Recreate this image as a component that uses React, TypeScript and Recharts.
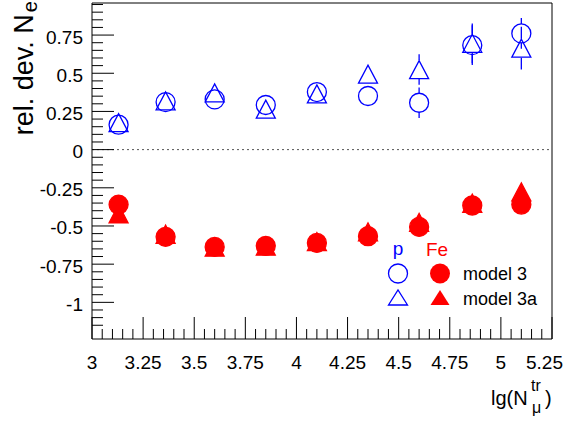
import React from 'react';
import { ScatterChart, Scatter, XAxis, YAxis, ErrorBar, ReferenceLine, ReferenceArea } from 'recharts';

// lg(N_mu^tr) bin centres
const X_BINS = [3.13, 3.36, 3.6, 3.85, 4.1, 4.35, 4.6, 4.86, 5.1];

// relative deviation of N_e
const P_M3 = [0.163, 0.311, 0.329, 0.292, 0.377, 0.351, 0.307, 0.684, 0.761];
const P_M3A = [0.177, 0.319, 0.371, 0.265, 0.365, 0.494, 0.524, 0.696, 0.664];
const FE_M3 = [-0.36, -0.571, -0.637, -0.63, -0.611, -0.567, -0.506, -0.366, -0.36];
const FE_M3A = [-0.42, -0.554, -0.639, -0.632, -0.603, -0.539, -0.477, -0.351, -0.277];

const P_M3_ERR = [0.03, 0.03, 0.03, 0.03, 0.03, 0.04, 0.1, 0.13, 0.1];
const P_M3A_ERR = [0.03, 0.03, 0.03, 0.03, 0.03, 0.04, 0.1, 0.13, 0.14];

const X_MAJOR = [3, 3.25, 3.5, 3.75, 4, 4.25, 4.5, 4.75, 5, 5.25];
const Y_MAJOR = [-1, -0.75, -0.5, -0.25, 0, 0.25, 0.5, 0.75];

const X_DOMAIN: [number, number] = [3, 5.25];
const Y_DOMAIN: [number, number] = [-1.24, 0.96];

const BLUE = '#0000ff';
const RED = '#ff0000';
const FONT = '"Liberation Sans", Arial, Helvetica, sans-serif';

// error bars start at the marker edge (as ROOT draws them)
const MARKER_GAP = 0.062;

function minorTicks(lo: number, hi: number) {
    const out: number[] = [];
    for (let i = Math.ceil(lo / 0.05); i * 0.05 <= hi + 1e-9; i++) {
        out.push(Math.round(i * 5) / 100);
    }
    return out;
}
const X_TICKS = minorTicks(X_DOMAIN[0], X_DOMAIN[1]);
const Y_TICKS = minorTicks(-1.2, 0.95);

const isMajor = (v: number, majors: number[]) => majors.some(m => Math.abs(m - v) < 1e-6);

function build(ys: number[], errs?: number[]) {
    return X_BINS.map((x, i) => {
        const e = errs ? errs[i] : 0;
        const show = e > MARKER_GAP;
        return {
            x,
            y: ys[i],
            up: show ? [-MARKER_GAP, e] : [0, 0],
            down: show ? [e, -MARKER_GAP] : [0, 0],
        };
    });
}

const pM3 = build(P_M3, P_M3_ERR);
const pM3a = build(P_M3A, P_M3A_ERR);
const feM3 = build(FE_M3);
const feM3a = build(FE_M3A);

const circle = (color: string, filled: boolean) => (props: any) => (
    <circle cx={props.cx} cy={props.cy} r={9.5} fill={filled ? color : 'none'} stroke={color} strokeWidth={1.3} />
);
const triangle = (color: string, filled: boolean) => (props: any) => {
    const { cx, cy } = props;
    return (
        <polygon
            points={`${cx - 9.5},${cy + 9} ${cx + 9.5},${cy + 9} ${cx},${cy - 9}`}
            fill={filled ? color : 'none'}
            stroke={color}
            strokeWidth={1.3}
        />
    );
};

const XTick = (props: any) => {
    const { x, y, payload } = props;
    const v = payload.value;
    const major = isMajor(v, X_MAJOR);
    const last = Math.abs(v - 5.25) < 1e-6;
    return (
        <g>
            <line x1={x} x2={x} y1={y} y2={y - (major ? 22 : 10)} stroke="#000" strokeWidth={1} />
            {major && (
                <text x={last ? x + 11 : x} y={y + 30} textAnchor={last ? 'end' : 'middle'} fontSize={19} fontFamily={FONT} fill="#000">
                    {String(v)}
                </text>
            )}
        </g>
    );
};

const YTick = (props: any) => {
    const { x, y, payload } = props;
    const v = payload.value;
    const major = isMajor(v, Y_MAJOR);
    return (
        <g>
            <line x1={x} x2={x + (major ? 22 : 11)} y1={y} y2={y} stroke="#000" strokeWidth={1} />
            {major && (
                <text x={x - 9} y={y + 8.5} textAnchor="end" fontSize={19} fontFamily={FONT} fill="#000">
                    {String(v)}
                </text>
            )}
        </g>
    );
};

export default function App() {
    return (
        <div style={{ position: 'absolute', left: 0, top: 0, width: 572, height: 423, background: '#fff' }}>
            <ScatterChart width={572} height={423} margin={{ top: 3, right: 20, bottom: 0, left: 0 }}>
                <XAxis
                    type="number"
                    dataKey="x"
                    domain={X_DOMAIN}
                    ticks={X_TICKS}
                    interval={0}
                    tick={<XTick />}
                    tickLine={false}
                    tickSize={0}
                    tickMargin={0}
                    axisLine={false}
                    height={84}
                    allowDataOverflow
                />
                <YAxis
                    type="number"
                    dataKey="y"
                    domain={Y_DOMAIN}
                    ticks={Y_TICKS}
                    interval={0}
                    tick={<YTick />}
                    tickLine={false}
                    tickSize={0}
                    tickMargin={0}
                    axisLine={false}
                    width={92}
                    allowDataOverflow
                />
                <ReferenceArea x1={3} x2={5.25} y1={-1.24} y2={0.96} fill="none" stroke="#000" strokeWidth={1} fillOpacity={0} />
                <ReferenceLine y={0} stroke="#555" strokeDasharray="2 3" strokeWidth={1} />

                <Scatter data={feM3a} shape={triangle(RED, true)} isAnimationActive={false} />
                <Scatter data={feM3} shape={circle(RED, true)} isAnimationActive={false} />
                <Scatter data={pM3} shape={circle(BLUE, false)} isAnimationActive={false}>
                    <ErrorBar dataKey="up" direction="y" width={0} stroke={BLUE} strokeWidth={1.3} />
                    <ErrorBar dataKey="down" direction="y" width={0} stroke={BLUE} strokeWidth={1.3} />
                </Scatter>
                <Scatter data={pM3a} shape={triangle(BLUE, false)} isAnimationActive={false}>
                    <ErrorBar dataKey="up" direction="y" width={0} stroke={BLUE} strokeWidth={1.3} />
                    <ErrorBar dataKey="down" direction="y" width={0} stroke={BLUE} strokeWidth={1.3} />
                </Scatter>
            </ScatterChart>

            <svg width={572} height={423} style={{ position: 'absolute', left: 0, top: 0, pointerEvents: 'none' }} fontFamily={FONT}>
                {/* axis titles */}
                <text transform="rotate(-90)" x={-1} y={33} textAnchor="end" fontSize={27} fill="#000">
                    rel. dev. N<tspan fontSize={20} dx={2} dy={4}>e</tspan>
                </text>
                <text x={491} y={405} fontSize={20} fill="#000">lg(N</text>
                <text x={531} y={391} fontSize={16} fill="#000">tr</text>
                <text x={532} y={413} fontSize={16} fill="#000">μ</text>
                <text x={545} y={405} fontSize={20} fill="#000">)</text>

                {/* legend */}
                <text x={398} y={255} textAnchor="middle" fontSize={19} fill={BLUE}>p</text>
                <text x={426} y={256} fontSize={19} fill={RED}>Fe</text>
                <circle cx={398} cy={273.5} r={9.5} fill="none" stroke={BLUE} strokeWidth={1.3} />
                <circle cx={440} cy={273.5} r={10} fill={RED} />
                <text x={463} y={280} fontSize={18} fill="#000">model 3</text>
                <polygon points="388.5,305 407.5,305 398,290" fill="none" stroke={BLUE} strokeWidth={1.3} />
                <polygon points="430.5,305 449.5,305 440,290" fill={RED} />
                <text x={463} y={305} fontSize={18} fill="#000">model 3a</text>
            </svg>
        </div>
    );
}
